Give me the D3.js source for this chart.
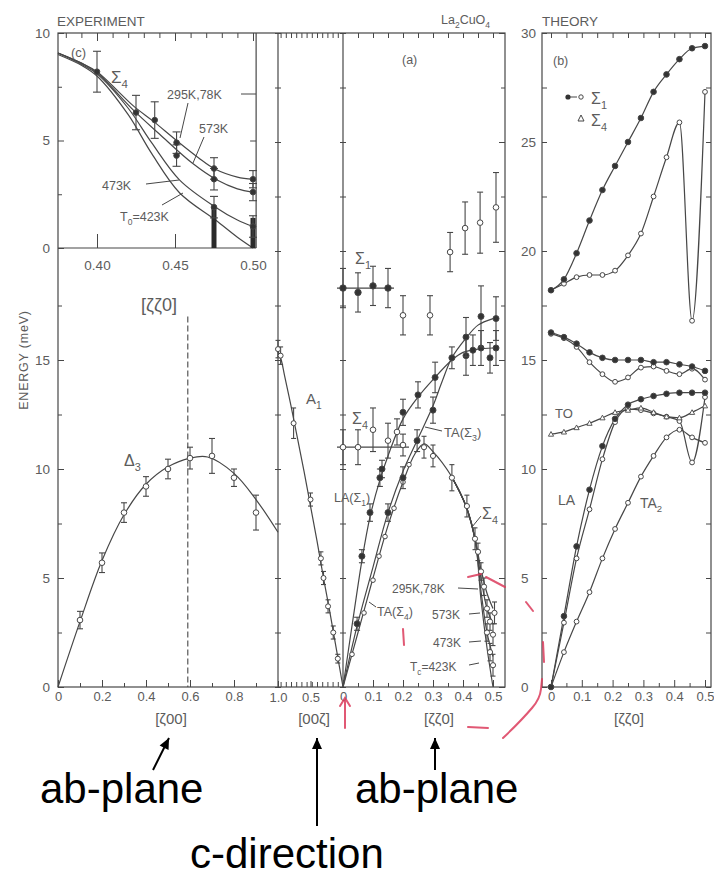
<!DOCTYPE html>
<html><head><meta charset="utf-8">
<script src="https://cdn.jsdelivr.net/npm/d3@7/dist/d3.min.js"></script>
<style>
body{margin:0;background:#fff}
svg text{font-family:"Liberation Sans",Arial,sans-serif}
</style></head><body>
<svg id="c" width="714" height="879"></svg>
<script>
// ---------------- DATA ----------------
// tick labels
const yLeftLabels = [0, 5, 10, 15];
const yRightLabels = [0, 5, 10, 15, 20, 25, 30];
const insetYLabels = [0, 5, 10];
const insetXLabels = [0.40, 0.45, 0.50];
const zeta00Labels = [0, 0.2, 0.4, 0.6, 0.8];
const zeta00cLabels = [1.0, 0.5];
const zetaZZLabels = [0, 0.1, 0.2, 0.3, 0.4, 0.5];

// left panel [ζ00] Δ3 branch
const delta3Curve = [[0,0],[0.1,3.0],[0.2,5.8],[0.3,7.9],[0.4,9.3],[0.5,10.1],[0.6,10.5],[0.68,10.55],[0.8,9.8],[0.9,8.6],[1.0,7.1]];
const delta3Pts = [[0.1,3.07,0.4],[0.2,5.7,0.45],[0.3,8.0,0.45],[0.4,9.2,0.45],[0.5,10.0,0.45],[0.6,10.5,0.5],[0.7,10.6,0.8],[0.8,9.6,0.4],[0.9,8.0,0.8]];

// [00ζ] A1 branch
const a1Curve = [[1.0,15.4],[0.95,15.0],[0.9,14.3],[0.8,12.9],[0.7,11.4],[0.6,9.9],[0.5,8.3],[0.4,6.7],[0.3,5.0],[0.2,3.4],[0.1,1.7],[0,0]];
const a1Pts = [[1.0,15.5,0.4],[0.96,15.2,0.4],[0.76,12.1,0.7],[0.5,8.6,0.3],[0.34,5.9,0.3],[0.3,5.0,0.3],[0.23,3.7,0.3],[0.15,2.5,0.3],[0.08,1.3,0.2]];

// [ζζ0] experiment
const laCurve = [[0,0],[0.03,2.8],[0.063,5.8],[0.09,7.8],[0.123,9.5],[0.15,10.6],[0.2,12.3],[0.25,13.3],[0.3,14.1],[0.363,15.0],[0.4,15.35],[0.45,15.5],[0.5,15.55]];
const laPts = [[0.063,6.0,0.3],[0.09,8.0,0.4],[0.123,9.6,0.4],[0.13,10.0,0.4],[0.2,12.6,0.6],[0.25,13.4,0.6],[0.307,14.2,0.7],[0.363,15.1,0.5],[0.41,15.2,0.9],[0.433,15.45,0.7],[0.46,15.55,0.8],[0.49,15.1,0.7],[0.51,15.55,0.8]];
const ta3Curve = [[0,0],[0.047,2.8],[0.1,5.5],[0.15,8.0],[0.2,9.9],[0.25,11.4],[0.3,12.9],[0.33,14.0],[0.363,15.1],[0.41,16.0],[0.45,16.6],[0.5,16.9]];
const ta3Pts = [[0.047,2.9,0.3],[0.15,8.0,0.4],[0.2,9.6,0.5],[0.247,11.3,0.5],[0.3,12.7,0.6],[0.41,16.05,0.9],[0.46,17.0,1.4],[0.51,16.9,1.0]];
const ta4Curve = [[0,0],[0.05,2.5],[0.1,5.0],[0.15,7.4],[0.2,9.4],[0.24,10.7],[0.27,11.15],[0.3,10.8],[0.36,9.7],[0.41,8.3],[0.44,6.8]];
const ta4Pts = [[0.03,1.5],[0.07,3.4],[0.1,4.9],[0.12,6.0],[0.14,6.9],[0.17,8.2],[0.2,9.4],[0.22,10.2]];
const sig4SoftPts = [[0.27,11.0,0.5],[0.3,10.6,0.5],[0.363,9.6,0.6],[0.413,8.3,0.5],[0.44,6.8,0.5],[0.45,6.2,0.4],[0.46,5.3,0.4],[0.47,4.6,0.4],[0.48,3.6,0.4],[0.49,3.0,0.4],[0.5,2.4,0.5],[0.49,1.6,0.4],[0.5,1.0,0.5],[0.48,2.5,0.4],[0.505,3.4,0.5]];
const t295 = [[0.44,6.8],[0.46,5.4],[0.48,4.3],[0.5,3.6]];
const t573 = [[0.44,6.8],[0.46,5.0],[0.48,3.6],[0.5,2.9]];
const t473 = [[0.44,6.8],[0.46,4.4],[0.48,2.5],[0.5,1.4]];
const t423 = [[0.44,6.8],[0.46,4.0],[0.48,1.8],[0.5,0]];
const sig4FlatLine = [[-0.02,11.0],[0.22,11.0]];
const sig4FlatPts = [[0,11.0,0.8],[0.05,11.0,0.8],[0.1,11.8,1.0],[0.15,11.3,0.8],[0.18,11.7,0.6],[0.2,11.1,0.5]];
const sig1Line = [[-0.02,18.3],[0.17,18.3]];
const sig1Pts = [[0,18.3,0.9],[0.05,18.1,0.9],[0.1,18.4,0.9],[0.15,18.3,0.9]];
const sig4HighPts = [[0.2,17.05,0.9],[0.29,17.05,0.9]];
const upperPts = [[0.357,19.95,0.9],[0.407,21.05,1.2],[0.457,21.3,1.4],[0.51,22.0,1.6]];

// inset (c)
const inT295 = [[0.375,9.07],[0.39,8.6],[0.40,8.2],[0.4235,6.6],[0.436,5.9],[0.451,5.0],[0.465,4.2],[0.475,3.7],[0.49,3.3],[0.50,3.2]];
const inT573 = [[0.375,9.07],[0.39,8.6],[0.40,8.15],[0.4235,6.4],[0.44,5.3],[0.461,3.95],[0.477,3.16],[0.49,2.75],[0.50,2.6]];
const inT473 = [[0.375,9.07],[0.39,8.55],[0.40,8.1],[0.42,6.5],[0.435,4.9],[0.453,3.16],[0.476,1.9],[0.49,1.3],[0.50,1.0]];
const inT423 = [[0.375,9.0],[0.39,8.5],[0.40,8.0],[0.42,6.2],[0.435,4.4],[0.453,2.56],[0.476,1.3],[0.49,0.5],[0.50,0]];
const inPts = [[0.40,8.2,0.95],[0.425,6.3,0.8],[0.437,5.95,0.85],[0.451,4.9,0.5],[0.451,4.3,0.5],[0.475,3.7,0.5],[0.475,3.2,0.5],[0.475,1.9,0.5],[0.50,3.2,0.4],[0.50,2.6,0.4],[0.50,1.0,0.5]];
const inBands = [[0.475,0,1.9],[0.50,0,1.4]];

// theory (b)
const thZeta = [0,0.042,0.083,0.125,0.167,0.208,0.25,0.292,0.333,0.375,0.417,0.458,0.5];
const thSig1 = [18.2,18.7,19.9,21.4,22.8,23.9,25.0,26.1,27.3,28.1,28.8,29.3,29.4];
const thSig4 = [18.2,18.5,18.8,18.9,18.9,19.1,19.8,20.8,22.5,24.3,25.9,16.8,27.3];
const thUpF = [16.26,16.05,15.75,15.35,15.1,15.0,15.0,15.0,14.9,14.9,14.8,14.7,14.5];
const thUpO = [16.2,16.0,15.6,14.9,14.35,14.0,14.2,14.65,14.7,14.5,14.35,14.6,14.1];
const thLAf = [0,3.25,6.45,9.05,11.05,12.3,12.95,13.2,13.35,13.45,13.5,13.5,13.5];
const thLAo = [0,2.95,5.9,8.15,10.45,12.15,12.75,12.7,12.55,12.4,12.2,10.3,13.3];
const thTO = [11.6,11.7,11.9,12.1,12.35,12.6,12.7,12.8,12.6,12.4,12.35,12.6,12.9];
const thTA2 = [0,1.6,3.0,4.35,5.9,7.25,8.45,9.65,10.6,11.45,11.8,11.45,11.2];

// ---------------- DRAWING ----------------
const svg = d3.select("#c");
const INK = "#474747", TXT = "#5c5c5c", RED = "#dc3c5c";
const FF = '"Liberation Sans",Arial,sans-serif';

const yE = d3.scaleLinear([0,30],[687,33]);
const xA = d3.scaleLinear([0,1],[58,278]);
const xC = d3.scaleLinear([1,0],[278,343]);
const xS = d3.scaleLinear([0,0.54],[343,505]);
const xT = d3.scaleLinear([0,0.5],[551,705]);
const xI = d3.scaleLinear([0.40,0.50],[97,253]);
const yI = d3.scaleLinear([0,10],[248,33]);

function axis(gen, tx, ty, fs) {
  const g = svg.append("g").attr("transform", `translate(${tx},${ty})`).call(gen);
  g.select(".domain").remove();
  g.selectAll("line").attr("stroke", INK).attr("stroke-width", 1);
  g.selectAll("text").attr("fill", TXT).attr("font-size", fs || 13).attr("font-family", FF);
  return g;
}
const fmt = d => d === 0 ? "0" : d3.format(".1f")(d);
const fmt2 = d => d3.format(".2f")(d);
const none = () => "";

// frames
const frame = svg.append("g").attr("fill", "none").attr("stroke", INK).attr("stroke-width", 1.2);
frame.append("rect").attr("x", xA(0)).attr("y", yE(30)).attr("width", xS.range()[1] - xA(0)).attr("height", yE(0) - yE(30));
frame.append("line").attr("x1", xA(1)).attr("x2", xA(1)).attr("y1", yE(30)).attr("y2", yE(0));
frame.append("line").attr("x1", xS(0)).attr("x2", xS(0)).attr("y1", yE(30)).attr("y2", yE(0));
frame.append("line").attr("x1", xI(0.502)).attr("x2", xI(0.502)).attr("y1", yI(10)).attr("y2", yI(0));
frame.append("line").attr("x1", xA(0)).attr("x2", xI(0.502)).attr("y1", yI(0)).attr("y2", yI(0));
frame.append("rect").attr("x", 542).attr("y", yE(30)).attr("width", 169).attr("height", yE(0) - yE(30));

// left axis
axis(d3.axisLeft(yE).tickValues(yLeftLabels).tickSize(-6).tickPadding(8).tickFormat(d3.format("d")), xA(0), 0, 13.5);
axis(d3.axisLeft(yE).tickValues([2.5,7.5,12.5,17.5]).tickSize(-4).tickFormat(none), xA(0), 0);
axis(d3.axisLeft(yI).tickValues(insetYLabels).tickSize(-6).tickPadding(8).tickFormat(d3.format("d")), xA(0), 0, 13.5);
axis(d3.axisLeft(yI).tickValues([2.5,7.5]).tickSize(-4).tickFormat(none), xA(0), 0);
// inset x axis
axis(d3.axisBottom(xI).tickValues(insetXLabels).tickSize(-14).tickPadding(12).tickFormat(fmt2), 0, yI(0), 13.5);
axis(d3.axisTop(xI).tickValues(d3.range(0.38,0.505,0.01)).tickSize(-5).tickFormat(none), 0, yI(10));
axis(d3.axisTop(xI).tickValues([0.40,0.45,0.50]).tickSize(-8).tickFormat(none), 0, yI(10));
axis(d3.axisLeft(yI).tickValues([5]).tickSize(6).tickFormat(none), xI(0.502), 0);

// bottom axes
axis(d3.axisBottom(xA).tickValues(zeta00Labels).tickSize(-7).tickPadding(5).tickFormat(fmt), 0, yE(0));
axis(d3.axisBottom(xA).tickValues([0.1,0.3,0.5,0.7,0.9]).tickSize(-4).tickFormat(none), 0, yE(0));
axis(d3.axisBottom(xC).tickValues(zeta00cLabels).tickSize(-6).tickPadding(6).tickFormat(d => d3.format(".1f")(d)), 0, yE(0));
axis(d3.axisBottom(xC).tickValues(d3.range(0.08,1,0.08)).tickSize(-5).tickFormat(none), 0, yE(0));
axis(d3.axisTop(xC).tickValues(d3.range(0.08,1,0.08)).tickSize(-5).tickFormat(none), 0, yE(30));
axis(d3.axisBottom(xS).tickValues(zetaZZLabels).tickSize(-7).tickPadding(5).tickFormat(fmt), 0, yE(0));
axis(d3.axisBottom(xS).tickValues(d3.range(0.05,0.5,0.1)).tickSize(-4).tickFormat(none), 0, yE(0));
axis(d3.axisTop(xS).tickValues(d3.range(0.05,0.53,0.05)).tickSize(-5).tickFormat(none), 0, yE(30));
axis(d3.axisBottom(xT).tickValues(zetaZZLabels).tickSize(-7).tickPadding(5).tickFormat(fmt), 0, yE(0));
axis(d3.axisBottom(xT).tickValues(d3.range(0.05,0.5,0.1)).tickSize(-4).tickFormat(none), 0, yE(0));
axis(d3.axisTop(xT).tickValues(d3.range(0,0.52,0.05)).tickSize(-5).tickFormat(none), 0, yE(30));

// right axis of experiment (labels between panels)
axis(d3.axisRight(yE).tickValues(yRightLabels).tickSize(-6).tickPadding(16).tickFormat(d3.format("d")), xS.range()[1], 0, 13.5);
axis(d3.axisRight(yE).tickValues(d3.range(2.5,30,5)).tickSize(-4).tickFormat(none), xS.range()[1], 0);
// crossing ticks on internal lines
axis(d3.axisRight(yE).tickValues(d3.range(0,30.1,2.5)).tickSize(6).tickFormat(none), xA(1) - 3, 0);
axis(d3.axisRight(yE).tickValues(d3.range(0,30.1,2.5)).tickSize(6).tickFormat(none), xS(0) - 3, 0);
// theory side ticks
axis(d3.axisRight(yE).tickValues(d3.range(0,30.1,2.5)).tickSize(5).tickFormat(none), 542, 0);
axis(d3.axisLeft(yE).tickValues(d3.range(0,30.1,2.5)).tickSize(5).tickFormat(none), 711, 0);

// helpers
function curve(sx, sy, data, opts = {}) {
  const gen = d3.line().x(d => sx(d[0])).y(d => sy(d[1])).curve(opts.curve || d3.curveCatmullRom.alpha(0.5));
  return svg.append("path").attr("d", gen(data)).attr("fill", "none")
    .attr("stroke", opts.stroke || INK).attr("stroke-width", opts.w || 1.2)
    .attr("stroke-dasharray", opts.dash || null);
}
function points(sx, sy, data, filled, r = 2.8, cap = 3) {
  const g = svg.append("g");
  data.forEach(d => {
    if (d[2]) {
      const x = sx(d[0]);
      g.append("line").attr("x1", x).attr("x2", x).attr("y1", sy(d[1] - d[2])).attr("y2", sy(d[1] + d[2])).attr("stroke", INK).attr("stroke-width", 1.1);
      [d[1] - d[2], d[1] + d[2]].forEach(v => g.append("line").attr("x1", x - cap).attr("x2", x + cap).attr("y1", sy(v)).attr("y2", sy(v)).attr("stroke", INK).attr("stroke-width", 1.1));
    }
  });
  g.selectAll("circle").data(data).join("circle")
    .attr("cx", d => sx(d[0])).attr("cy", d => sy(d[1])).attr("r", r)
    .attr("fill", filled ? "#333" : "#fff").attr("stroke", INK).attr("stroke-width", 1);
}
function tri(sx, sy, data, s = 3) {
  svg.append("g").selectAll("path").data(data).join("path")
    .attr("d", d => { const x = sx(d[0]), y = sy(d[1]); return `M${x},${y - s}L${x + s},${y + s * 0.8}L${x - s},${y + s * 0.8}Z`; })
    .attr("fill", "#fff").attr("stroke", INK).attr("stroke-width", 0.9);
}
function label(x, y, parts, size, opts = {}) {
  const t = svg.append("text").attr("x", x).attr("y", y).attr("font-size", size)
    .attr("fill", opts.fill || TXT).attr("text-anchor", opts.anchor || "start");
  if (opts.transform) t.attr("transform", opts.transform);
  if (opts.ls) t.attr("letter-spacing", opts.ls);
  let shifted = false;
  parts.forEach(p => {
    if (typeof p === "string") {
      const s = t.append("tspan").text(p);
      if (shifted) { s.attr("dy", -size * 0.3); shifted = false; }
    } else {
      t.append("tspan").text(p.sub).attr("font-size", size * 0.68).attr("dy", size * 0.3);
      shifted = true;
    }
  });
  return t;
}
function seg(x1, y1, x2, y2, stroke = INK, w = 1) {
  svg.append("line").attr("x1", x1).attr("y1", y1).attr("x2", x2).attr("y2", y2).attr("stroke", stroke).attr("stroke-width", w);
}

// ---- left panel Δ3
curve(xA, yE, delta3Curve);
svg.append("line").attr("x1", xA(0.59)).attr("x2", xA(0.59)).attr("y1", yE(17)).attr("y2", yE(0))
  .attr("stroke", INK).attr("stroke-width", 1.1).attr("stroke-dasharray", "6,3");
points(xA, yE, delta3Pts, false);

// ---- [00ζ] A1
curve(xC, yE, a1Curve);
points(xC, yE, a1Pts, false, 2.5, 2.5);

// ---- [ζζ0]
curve(xS, yE, laCurve);
curve(xS, yE, ta3Curve);
[t295, t573, t473, t423].forEach(t => curve(xS, yE, ta4Curve.slice(-3).concat(t.slice(1))));
curve(xS, yE, ta4Curve);
curve(xS, yE, sig4FlatLine);
curve(xS, yE, sig1Line);
points(xS, yE, ta4Pts, false, 2.3);
points(xS, yE, sig4SoftPts, false, 2.6, 2.5);
points(xS, yE, sig4FlatPts, false, 2.8);
points(xS, yE, sig4HighPts, false, 2.8);
points(xS, yE, upperPts, false, 2.8);
points(xS, yE, laPts, true, 3);
points(xS, yE, ta3Pts, true, 3);
points(xS, yE, sig1Pts, true, 3.2);

// ---- inset
[inT295, inT573, inT473, inT423].forEach(t => curve(xI, yI, t));
inBands.forEach(b => seg(xI(b[0]), yI(b[1]), xI(b[0]), yI(b[2]), "#2a2a2a", 5));
points(xI, yI, inPts, true, 2.8, 4);

// ---- theory
const zip = v => thZeta.map((z, i) => [z, v[i]]);
const mono = { curve: d3.curveMonotoneX };
[thSig1, thSig4, thUpF, thUpO, thLAf, thLAo, thTO, thTA2].forEach(v => curve(xT, yE, zip(v), mono));
points(xT, yE, zip(thSig4), false, 2.4);
points(xT, yE, zip(thUpO), false, 2.4);
points(xT, yE, zip(thLAo), false, 2.4);
points(xT, yE, zip(thTA2), false, 2.4);
tri(xT, yE, zip(thTO), 2.6);
points(xT, yE, zip(thSig1), true, 2.8);
points(xT, yE, zip(thUpF), true, 2.8);
points(xT, yE, zip(thLAf), true, 2.8);

// ---------------- LABELS ----------------
label(57, 26, ["EXPERIMENT"], 13.5);
label(71, 57, ["(c)"], 13);
label(111, 83, ["Σ", {sub: "4"}], 17);
label(167, 99, ["295K,78K"], 12.5);
seg(241, 94, 256, 94);
seg(188, 103, 180, 138);
label(199, 133, ["573K"], 12.5);
seg(204, 137, 193, 163);
label(102, 190, ["473K"], 12.5);
seg(146, 184, 179, 180);
label(120, 221, ["T", {sub: "0"}, "=423K"], 12.5);
seg(162, 205, 183, 193);
label(159, 311, ["[ζζ0]"], 18, {anchor: "middle"});
label(28, 360, ["ENERGY (meV)"], 12.5, {anchor: "middle", transform: "rotate(-90,28,360)", ls: 0.8});
label(124, 466, ["Δ", {sub: "3"}], 16);
label(306, 404, ["A", {sub: "1"}], 15);
label(441, 24, ["La", {sub: "2"}, "CuO", {sub: "4"}], 12.5);
label(402, 64, ["(a)"], 12.5);
label(355, 264, ["Σ", {sub: "1"}], 16);
label(352, 424, ["Σ", {sub: "4"}], 16);
label(334, 502, ["LA(Σ", {sub: "1"}, ")"], 12.5);
label(444, 437, ["TA(Σ", {sub: "3"}, ")"], 13);
seg(442, 431, 425, 427);
label(482, 519, ["Σ", {sub: "4"}], 16);
seg(481, 516, 472, 527);
label(377, 616, ["TA(Σ", {sub: "4"}, ")"], 12.5);
seg(376, 607, 369, 602);
label(392, 593, ["295K,78K"], 12);
seg(458, 588, 478, 589);
label(432, 619, ["573K"], 12);
seg(469, 614, 480, 613);
label(433, 647, ["473K"], 12);
seg(469, 642, 481, 641);
label(410, 671, ["T", {sub: "c"}, "=423K"], 12);
seg(469, 665, 479, 663);
label(542, 26, ["THEORY"], 13.5);
label(553, 65, ["(b)"], 12.5);
svg.append("circle").attr("cx", 568).attr("cy", 97).attr("r", 2.6).attr("fill", "#333");
seg(570, 97, 577, 97);
svg.append("circle").attr("cx", 581).attr("cy", 97).attr("r", 2.2).attr("fill", "#fff").attr("stroke", INK);
label(591, 104, ["Σ", {sub: "1"}], 16);
svg.append("path").attr("d", "M581,115L584,121L578,121Z").attr("fill", "#fff").attr("stroke", INK);
label(591, 126, ["Σ", {sub: "4"}], 16);
label(555, 418, ["TO"], 13);
label(558, 505, ["LA"], 14);
label(640, 508, ["TA", {sub: "2"}], 14);

// axis direction labels
label(171, 724, ["[ζ00]"], 15, {anchor: "middle"});
label(314, 724, ["[00ζ]"], 15, {anchor: "middle"});
label(439, 724, ["[ζζ0]"], 15, {anchor: "middle"});
label(629, 724, ["[ζζ0]"], 15, {anchor: "middle"});

// red hand annotations
const red = svg.append("g").attr("fill", "none").attr("stroke", RED).attr("stroke-width", 2).attr("stroke-linecap", "round").attr("opacity", 0.85);
red.append("path").attr("d", "M345,728L345,699M340,706L345,698L350,706");
red.append("path").attr("d", "M468,727L488,728");
red.append("path").attr("d", "M503,738Q520,722 532,708Q540,699 541,689L542,679");
red.append("path").attr("d", "M543,642L544,662");
red.append("path").attr("d", "M526,602L533,611");
red.append("path").attr("d", "M468,577L481,574M486,577L505,587");
red.append("path").attr("d", "M403,629L404,645");

// black presentation annotations
const blk = svg.append("g").attr("stroke", "#000").attr("stroke-width", 2).attr("fill", "#000");
function arrow(x1, y1, x2, y2) {
  blk.append("line").attr("x1", x1).attr("y1", y1).attr("x2", x2).attr("y2", y2);
  const a = Math.atan2(y2 - y1, x2 - x1), L = 11, W = 5;
  const bx = x2 - L * Math.cos(a), by = y2 - L * Math.sin(a);
  blk.append("path").attr("stroke", "none").attr("d",
    `M${x2},${y2}L${bx + W * Math.sin(a)},${by - W * Math.cos(a)}L${bx - W * Math.sin(a)},${by + W * Math.cos(a)}Z`);
}
arrow(153, 770, 169, 738);
arrow(317, 826, 317, 738);
arrow(435, 770, 435, 738);
label(40, 803, ["ab-plane"], 42, {fill: "#000"});
label(355, 803, ["ab-plane"], 42, {fill: "#000"});
label(190, 868, ["c-direction"], 42, {fill: "#000"});
</script></body></html>
